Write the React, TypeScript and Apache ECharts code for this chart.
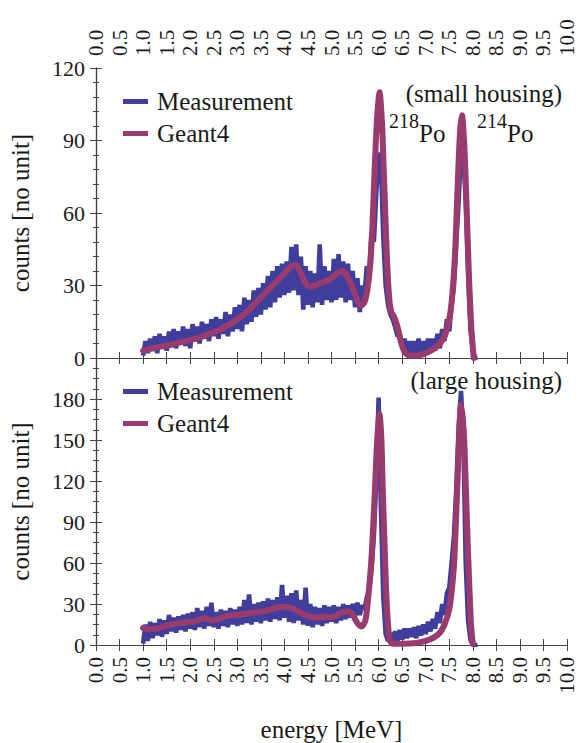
import React, { useEffect, useRef } from "react";
import * as echarts from "echarts";

// Measurement histograms: bins start at 1.00 MeV, 0.05 MeV wide
const BIN_START = 1.0;
const BIN_STEP = 0.05;

const measSmall = [
  1, 7, 2, 8, 3, 9, 2, 10, 4, 9,
  3, 11, 5, 12, 4, 11, 6, 13, 5, 12,
  4, 14, 7, 13, 6, 15, 8, 14, 7, 16,
  9, 17, 8, 16, 10, 19, 9, 18, 11, 21,
  12, 22, 11, 25, 14, 24, 15, 28, 17, 29,
  18, 31, 20, 34, 21, 36, 23, 38, 25, 39,
  26, 40, 27, 46, 28, 47, 26, 42, 20, 38,
  22, 36, 21, 35, 23, 47, 22, 38, 24, 36,
  23, 41, 24, 43, 25, 40, 23, 39, 24, 36,
  21, 33, 19, 30, 26, 38, 35, 52, 48, 68,
  85, 80, 50, 30, 22, 18, 16, 13, 9, 10,
  5, 8, 2, 7, 1, 7, 2, 8, 1, 7,
  2, 8, 3, 8, 3, 10, 4, 12, 7, 16,
  11, 22, 30, 48, 65, 86, 84, 65, 35, 12,
  3, 0, 0,
];

const measLarge = [
  1, 15, 3, 17, 5, 16, 7, 19, 6, 18,
  8, 22, 10, 20, 9, 21, 11, 22, 10, 23,
  12, 24, 11, 27, 13, 25, 12, 28, 14, 31,
  13, 24, 12, 26, 14, 25, 13, 27, 15, 26,
  14, 28, 15, 33, 16, 37, 15, 30, 17, 31,
  16, 32, 18, 34, 17, 33, 19, 35, 18, 44,
  20, 36, 17, 38, 16, 40, 18, 33, 15, 42,
  14, 30, 13, 28, 15, 27, 14, 29, 16, 28,
  17, 29, 16, 28, 18, 30, 19, 29, 20, 30,
  21, 31, 22, 29, 26, 35, 40, 55, 80, 120,
  181, 100, 35, 8, 3, 9, 2, 10, 3, 11,
  4, 12, 5, 12, 6, 13, 5, 14, 7, 15,
  8, 17, 10, 19, 12, 24, 16, 30, 22, 38,
  42, 60, 80, 115, 160, 186, 150, 60, 18, 4,
  0, 0, 0,
];

// Geant4 simulation curves
const geantSmallE = [
  1.0, 1.2, 1.4, 1.6, 1.8, 2.0, 2.2, 2.4, 2.6, 2.8, 3.0, 3.2, 3.4, 3.6, 3.8,
  4.0, 4.15, 4.25, 4.35, 4.45, 4.55, 4.7, 4.85, 5.0, 5.15, 5.25, 5.35, 5.45,
  5.55, 5.62, 5.7, 5.76, 5.82, 5.87, 5.92, 5.97, 6.02, 6.07, 6.12, 6.17, 6.22,
  6.27, 6.33, 6.4, 6.47, 6.55, 6.65, 6.8, 7.0, 7.15, 7.3, 7.4, 7.48, 7.55,
  7.62, 7.68, 7.73, 7.77, 7.82, 7.87, 7.92, 7.97, 8.02,
];
const geantSmallV = [
  3, 4, 4.8, 5.5, 6.5, 7.4, 8.5, 10, 11.5, 13.5, 16, 19, 23, 27, 31,
  35, 38, 38.5, 35, 31, 29.5, 30.5, 31.6, 33, 35.5, 36, 33, 29,
  24, 21.5, 23, 28, 38, 55, 80, 100, 110, 98, 72, 45, 26,
  19, 17, 13, 7, 2.5, 1, 1, 2, 3.5, 6, 9, 14, 23,
  42, 72, 94, 100.5, 88, 62, 33, 12, 0,
];

const geantLargeE = [
  1.0, 1.15, 1.3, 1.5, 1.7, 1.9, 2.1, 2.3, 2.45, 2.6, 2.8, 3.0, 3.2, 3.4, 3.6,
  3.8, 3.95, 4.1, 4.25, 4.4, 4.55, 4.7, 4.85, 5.0, 5.1, 5.25, 5.35, 5.45, 5.55,
  5.64, 5.72, 5.78, 5.85, 5.92, 5.97, 6.02, 6.06, 6.09, 6.13, 6.16, 6.2, 6.24,
  6.3, 6.5, 6.8, 7.0, 7.15, 7.3, 7.4, 7.5, 7.56, 7.61, 7.68, 7.72, 7.75, 7.79,
  7.82, 7.89, 7.96, 8.0,
];
const geantLargeV = [
  12.4, 11.5, 12, 14.3, 15.5, 16.5, 17.5, 19.6, 18, 19, 21.5, 22, 23, 24, 25,
  27, 28, 27.5, 25.5, 22.5, 20.8, 20, 20.5, 20.3, 21.5, 24, 24.5, 22, 16,
  13.6, 18, 35, 64, 112, 150, 169, 150, 112, 70, 40, 15, 3,
  1, 1, 1.5, 3, 5, 9, 15, 26, 42, 64, 124, 160, 176, 165,
  148, 76, 16, 1,
];

const SERIES_NAMES = ["Measurement", "Geant4"];
const PANEL_LABELS = ["(small housing)", "(large housing)"];
const PEAK_LABELS = [
  { mass: "218", elem: "Po" },
  { mass: "214", elem: "Po" },
];

const BLUE = "#3f3e9d";
const MAGENTA = "#9a3b6e";
const FONT = "Liberation Serif";
const AXIS_COLOR = "#444";
const TEXT_COLOR = "#1a1a1a";

const binned = (vals: number[]) =>
  vals.map((v, i) => [+(BIN_START + i * BIN_STEP).toFixed(2), v]);
const paired = (xs: number[], ys: number[]) => xs.map((x, i) => [x, ys[i]]);

export default function App() {
  const ref = useRef<HTMLDivElement>(null);

  useEffect(() => {
    if (!ref.current) return;
    const chart = echarts.init(ref.current, null, { renderer: "svg" });

    const axisLine = { show: true, lineStyle: { color: AXIS_COLOR, width: 1.2 } };
    const xBase = {
      type: "value",
      min: 0,
      max: 10,
      interval: 0.5,
      axisLine,
      axisTick: { show: true, inside: true, length: 6, lineStyle: { color: AXIS_COLOR } },
      splitLine: { show: false },
    };
    const xLabel = {
      show: true,
      rotate: 90,
      margin: 12,
      fontSize: 21,
      fontFamily: FONT,
      color: TEXT_COLOR,
      formatter: (v: number) => v.toFixed(1),
    };
    const yBase = (max: number, minorSplit: number) => ({
      type: "value",
      min: 0,
      max,
      interval: 30,
      axisLine,
      axisTick: { show: true, inside: true, length: 6, lineStyle: { color: AXIS_COLOR } },
      minorTick: { show: true, splitNumber: minorSplit, length: 3, lineStyle: { color: AXIS_COLOR } },
      splitLine: { show: false },
    });
    const yLabel = (max: number, hideMax: boolean) => ({
      show: true,
      margin: 11,
      fontSize: 22,
      fontFamily: FONT,
      color: TEXT_COLOR,
      formatter: (v: number) => (hideMax && v === max ? "" : String(v)),
    });
    const yName = {
      name: "counts [no unit]",
      nameLocation: "middle",
      nameRotate: 90,
      nameGap: 63,
      nameTextStyle: { fontSize: 25, fontFamily: FONT, color: TEXT_COLOR },
    };

    const legendBase = {
      orient: "vertical",
      left: 118,
      itemWidth: 25,
      itemHeight: 5,
      itemGap: 7,
      icon: "rect",
      data: SERIES_NAMES,
      textStyle: {
        fontSize: 25,
        lineHeight: 25,
        fontFamily: FONT,
        color: TEXT_COLOR,
        padding: [0, 0, 0, 4],
      },
    };

    const textEl = (text: string, x: number, y: number, size: number, align: string) => ({
      type: "text",
      x,
      y,
      z: 100,
      style: {
        text,
        fontSize: size,
        fontFamily: FONT,
        fill: TEXT_COLOR,
        align,
        verticalAlign: "middle",
        textAlign: align,
        textVerticalAlign: "middle",
      },
    });

    chart.setOption({
      animation: false,
      backgroundColor: "#fff",
      grid: [
        { left: 95, right: 11, top: 68, height: 290 },
        { left: 95, right: 11, top: 358, height: 291 },
      ],
      legend: [
        { ...legendBase, top: 84 },
        { ...legendBase, top: 374 },
      ],
      xAxis: [
        { ...xBase, gridIndex: 0, position: "bottom", axisLabel: { show: false } },
        { ...xBase, gridIndex: 0, position: "top", axisLabel: xLabel },
        {
          ...xBase,
          gridIndex: 1,
          position: "bottom",
          axisLabel: xLabel,
          name: "energy [MeV]",
          nameLocation: "middle",
          nameGap: 72,
          nameTextStyle: { fontSize: 25, fontFamily: FONT, color: TEXT_COLOR },
        },
        { ...xBase, gridIndex: 1, position: "top", axisLabel: { show: false } },
      ],
      yAxis: [
        { ...yBase(120, 5), gridIndex: 0, position: "left", axisLabel: yLabel(120, false), ...yName },
        { ...yBase(120, 5), gridIndex: 0, position: "right", axisLabel: { show: false } },
        { ...yBase(210, 4), gridIndex: 1, position: "left", axisLabel: yLabel(210, true), ...yName },
        { ...yBase(210, 4), gridIndex: 1, position: "right", axisLabel: { show: false } },
      ],
      series: [
        {
          name: SERIES_NAMES[0],
          type: "line",
          xAxisIndex: 0,
          yAxisIndex: 0,
          data: binned(measSmall),
          showSymbol: false,
          color: BLUE,
          lineStyle: { color: BLUE, width: 4.6 },
          z: 2,
        },
        {
          name: SERIES_NAMES[1],
          type: "line",
          xAxisIndex: 0,
          yAxisIndex: 0,
          data: paired(geantSmallE, geantSmallV),
          showSymbol: false,
          smooth: 0.25,
          color: MAGENTA,
          lineStyle: { color: MAGENTA, width: 6, cap: "round", join: "round" },
          z: 3,
        },
        {
          name: SERIES_NAMES[0],
          type: "line",
          xAxisIndex: 2,
          yAxisIndex: 2,
          data: binned(measLarge),
          showSymbol: false,
          color: BLUE,
          lineStyle: { color: BLUE, width: 4.6 },
          z: 2,
        },
        {
          name: SERIES_NAMES[1],
          type: "line",
          xAxisIndex: 2,
          yAxisIndex: 2,
          data: paired(geantLargeE, geantLargeV),
          showSymbol: false,
          smooth: 0.25,
          color: MAGENTA,
          lineStyle: { color: MAGENTA, width: 6, cap: "round", join: "round" },
          z: 3,
        },
      ],
      graphic: [
        textEl(PANEL_LABELS[0], 562, 93, 25, "right"),
        textEl(PANEL_LABELS[1], 562, 380, 25, "right"),
        textEl(PEAK_LABELS[0].mass, 389, 121, 20, "left"),
        textEl(PEAK_LABELS[0].elem, 419, 133, 25, "left"),
        textEl(PEAK_LABELS[1].mass, 477, 121, 20, "left"),
        textEl(PEAK_LABELS[1].elem, 507, 133, 25, "left"),
      ],
    });

    return () => chart.dispose();
  }, []);

  return (
    <div
      ref={ref}
      style={{ position: "fixed", left: 0, top: 0, width: 578, height: 743, background: "#fff" }}
    />
  );
}
